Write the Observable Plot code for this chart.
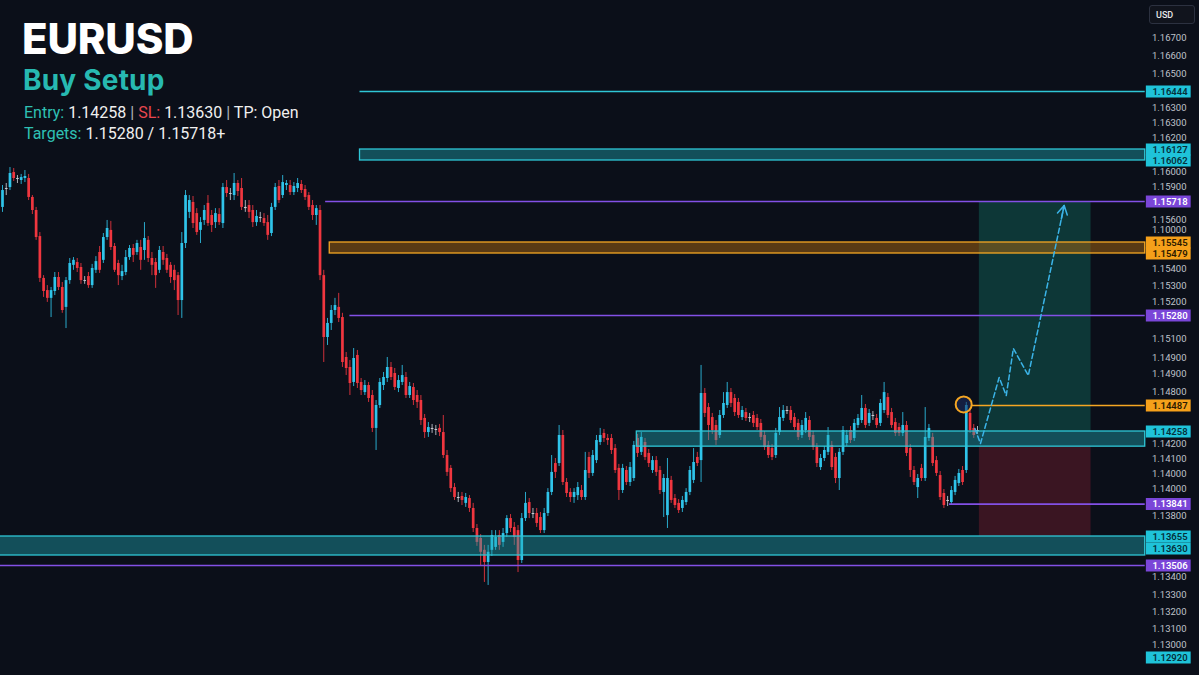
<!DOCTYPE html>
<html>
<head>
<meta charset="utf-8">
<script src="https://cdn.jsdelivr.net/npm/d3@7"></script>
<script src="https://cdn.jsdelivr.net/npm/@observablehq/plot@0.6"></script>
<style>
  html, body { margin: 0; padding: 0; background: #0b0f19; overflow: hidden; }
  #wrap { position: relative; width: 1199px; height: 675px; }
  #chart svg { display: block; }
  .title { position: absolute; left: 22px; top: 18px; font: 800 42px Inter, "DejaVu Sans", sans-serif; color: #ffffff; line-height: 1; letter-spacing: -0.2px; }
  .sub { position: absolute; left: 23px; top: 66px; font: 700 28px Inter, sans-serif; color: #27b9b1; line-height: 1; letter-spacing: 0.2px; }
  .info { position: absolute; left: 24px; font: 400 16px Roboto, sans-serif; color: #f0f0f0; line-height: 1; white-space: nowrap; }
  .t { color: #2fc0b4; }
  .r { color: #e8474f; }
  .sep { color: #b0b4bc; }
  #usd { position: absolute; left: 1149px; top: 5px; width: 46px; height: 19px; border: 1px solid #2c3140; border-radius: 3px; background: #11141d; color: #e8e8e8; font: 500 9px Roboto, sans-serif; line-height: 18px; padding-left: 6px; box-sizing: border-box; }
</style>
</head>
<body>
<div id="wrap">
  <div id="chart"></div>
  <div class="title">EURUSD</div>
  <div class="sub">Buy Setup</div>
  <div class="info" style="top:105px"><span class="t">Entry:</span> 1.14258 <span class="sep">|</span> <span class="r">SL:</span> 1.13630 <span class="sep">|</span> TP: Open</div>
  <div class="info" style="top:126px"><span class="t">Targets:</span> 1.15280 / 1.15718+</div>
  <div id="usd">USD</div>
</div>
<script>
// ---------------- DATA (EURUSD candles, bar index 0..261) ----------------
const open = [
1.15693,1.15819,1.15835,1.15961,1.15911,1.15894,1.15911,1.15911,1.15752,1.15680,
1.15570,1.15399,1.15360,1.15335,1.15357,1.15402,1.15370,1.15306,1.15392,1.15441,
1.15450,1.15434,1.15392,1.15405,1.15376,1.15425,1.15485,1.15457,1.15566,1.15596,
1.15521,1.15447,1.15405,1.15418,1.15466,1.15509,1.15485,1.15515,1.15497,1.15554,
1.15463,1.15450,1.15425,1.15485,1.15463,1.15441,1.15425,1.15408,1.15328,1.15539,
1.15672,1.15714,1.15667,1.15596,1.15638,1.15710,1.15659,1.15629,1.15663,1.15625,
1.15835,1.15785,1.15768,1.15869,1.15827,1.15693,1.15701,1.15680,1.15629,1.15650,
1.15646,1.15629,1.15583,1.15693,1.15844,1.15768,1.15852,1.15852,1.15793,1.15827,
1.15861,1.15819,1.15768,1.15701,1.15659,1.15680,1.15408,1.15086,1.15210,1.15296,
1.15306,1.15262,1.14910,1.14822,1.14690,1.14928,1.14690,1.14601,1.14663,1.14575,
1.14285,1.14487,1.14663,1.14725,1.14822,1.14769,1.14637,1.14690,1.14734,1.14575,
1.14646,1.14575,1.14531,1.14373,1.14252,1.14285,1.14276,1.14285,1.14252,1.14120,
1.14046,1.13936,1.13879,1.13885,1.13845,1.13873,1.13816,1.13701,1.136524,1.136368,
1.13543,1.136368,1.136407,1.13661,1.136472,1.13672,1.13758,1.13707,1.13689,1.13568,
1.13758,1.13850,1.13787,1.13787,1.13764,1.13689,1.13787,1.13908,1.14074,1.14074,
1.14235,1.13965,1.13908,1.13879,1.13890,1.13919,1.13879,1.14109,1.14017,1.14091,
1.14195,1.14247,1.14218,1.14218,1.14160,1.14046,1.13919,1.14034,1.13965,1.13988,
1.14218,1.14138,1.14195,1.14132,1.14034,1.14091,1.14034,1.13908,1.13775,1.13977,
1.13873,1.13845,1.13816,1.13850,1.13908,1.13977,1.14109,1.14091,1.14593,1.14469,
1.14381,1.14311,1.14235,1.14399,1.14487,1.14601,1.14549,1.14514,1.14381,1.14425,
1.14381,1.14399,1.14373,1.14329,1.14235,1.14178,1.14160,1.14120,1.14252,1.14373,
1.14443,1.14443,1.14381,1.14329,1.14235,1.14267,1.14355,1.14235,1.14166,1.14051,
1.14103,1.14138,1.14178,1.14109,1.13988,1.14138,1.14189,1.14267,1.14218,1.14311,
1.14355,1.14461,1.14329,1.14399,1.14373,1.14329,1.14443,1.14557,1.14425,1.14337,
1.14293,1.14247,1.14311,1.14160,1.14034,1.13936,1.14046,1.13988,1.14218,1.14224,
1.14091,1.14005,1.13902,1.13862,1.13850,1.13908,1.13959,1.14034,1.14034,1.14417,
1.14285,1.14267
];
const high = [
1.15852,1.15869,1.16003,1.15995,1.15936,1.15945,1.15978,1.15945,1.15768,1.15693,
1.15587,1.15408,1.15376,1.15370,1.15418,1.15418,1.15386,1.15402,1.15463,1.15466,
1.15463,1.15447,1.15405,1.15418,1.15444,1.15469,1.15521,1.15583,1.15638,1.15634,
1.15539,1.15457,1.15441,1.15497,1.15527,1.15533,1.15554,1.15554,1.15629,1.15570,
1.15485,1.15463,1.15521,1.15521,1.15476,1.15450,1.15441,1.15418,1.15587,1.15810,
1.15768,1.15760,1.15688,1.15650,1.15701,1.15768,1.15680,1.15688,1.15688,1.15869,
1.15894,1.15827,1.15953,1.15894,1.15911,1.15726,1.15726,1.15701,1.15680,1.15672,
1.15667,1.15659,1.15710,1.15869,1.15894,1.15936,1.15894,1.15894,1.15877,1.15911,
1.15894,1.15852,1.15793,1.15726,1.15701,1.15701,1.15425,1.15254,1.15312,1.15335,
1.15351,1.15287,1.14954,1.14884,1.14989,1.14972,1.14725,1.14707,1.14690,1.14619,
1.14531,1.14725,1.14778,1.14910,1.14866,1.14813,1.14751,1.14840,1.14778,1.14690,
1.14681,1.14619,1.14575,1.14408,1.14337,1.14320,1.14311,1.14320,1.14399,1.14149,
1.14063,1.13959,1.13908,1.13908,1.13902,1.13890,1.13845,1.13724,1.13666,1.136433,
1.136433,1.13689,1.13689,1.13689,1.13701,1.13775,1.13781,1.13735,1.13718,1.13787,
1.13908,1.13873,1.13816,1.13816,1.13793,1.13816,1.13930,1.14120,1.14103,1.14311,
1.14267,1.13988,1.13930,1.13930,1.13965,1.13948,1.14138,1.14138,1.14149,1.14235,
1.14285,1.14276,1.14241,1.14241,1.14183,1.14069,1.14069,1.14057,1.14080,1.14201,
1.14241,1.14252,1.14218,1.14155,1.14114,1.14114,1.14057,1.14011,1.14103,1.14000,
1.13896,1.13867,1.13885,1.13930,1.14057,1.14160,1.14138,1.14840,1.14637,1.14505,
1.14417,1.14355,1.14443,1.14601,1.14690,1.14637,1.14584,1.14549,1.14478,1.14461,
1.14417,1.14434,1.14408,1.14364,1.14258,1.14201,1.14183,1.14285,1.14469,1.14487,
1.14478,1.14478,1.14417,1.14364,1.14355,1.14425,1.14390,1.14258,1.14189,1.14126,
1.14172,1.14293,1.14201,1.14132,1.14160,1.14302,1.14267,1.14302,1.14364,1.14408,
1.14575,1.14496,1.14452,1.14434,1.14408,1.14540,1.14690,1.14593,1.14461,1.14373,
1.14329,1.14425,1.14346,1.14183,1.14057,1.14011,1.14069,1.14469,1.14320,1.14247,
1.14114,1.14028,1.13925,1.13885,1.13942,1.14000,1.14040,1.14057,1.14514,1.14452,
1.14320,1.14302
];
const low = [
1.15672,1.15768,1.15810,1.15886,1.15869,1.15861,1.15877,1.15726,1.15663,1.15554,
1.15386,1.15338,1.15322,1.15262,1.15344,1.15360,1.15287,1.15165,1.15380,1.15425,
1.15418,1.15380,1.15380,1.15367,1.15367,1.15415,1.15415,1.15447,1.15554,1.15497,
1.15418,1.15376,1.15392,1.15408,1.15457,1.15450,1.15473,1.15425,1.15457,1.15450,
1.15408,1.15367,1.15415,1.15441,1.15415,1.15383,1.15360,1.15280,1.15254,1.15509,
1.15646,1.15604,1.15575,1.15539,1.15617,1.15613,1.15587,1.15604,1.15617,1.15604,
1.15752,1.15726,1.15726,1.15760,1.15680,1.15672,1.15646,1.15608,1.15613,1.15629,
1.15613,1.15554,1.15570,1.15680,1.15710,1.15743,1.15810,1.15768,1.15768,1.15793,
1.15785,1.15726,1.15680,1.15638,1.15617,1.15392,1.14866,1.15016,1.15148,1.15280,
1.15218,1.14822,1.14751,1.14575,1.14654,1.14637,1.14575,1.14575,1.14514,1.14252,
1.14149,1.14461,1.14619,1.14690,1.14707,1.14619,1.14601,1.14663,1.14549,1.14549,
1.14487,1.14461,1.14311,1.14218,1.14224,1.14247,1.14235,1.14229,1.14103,1.14000,
1.13908,1.13862,1.13850,1.13833,1.13822,1.13793,1.13678,1.136420,1.13506,1.13398,
1.13379,1.13618,1.136368,1.136368,1.136407,1.136537,1.13678,1.136433,1.13461,1.13531,
1.13741,1.13758,1.13758,1.13707,1.13672,1.13672,1.13770,1.13890,1.13988,1.14057,
1.13948,1.13879,1.13850,1.13845,1.13862,1.13862,1.13862,1.13988,1.14000,1.14074,
1.14178,1.14195,1.14178,1.14126,1.14017,1.13862,1.13902,1.13948,1.13942,1.13971,
1.14109,1.14120,1.14091,1.14051,1.14017,1.14000,1.13896,1.13764,1.13701,1.13845,
1.13816,1.13787,1.13793,1.13833,1.13890,1.13959,1.14057,1.13965,1.14381,1.14206,
1.14241,1.14178,1.14218,1.14373,1.14461,1.14469,1.14390,1.14373,1.14355,1.14346,
1.14337,1.14293,1.14267,1.14206,1.14149,1.14103,1.14091,1.14103,1.14235,1.14346,
1.14408,1.14329,1.14267,1.14206,1.14218,1.14247,1.14206,1.14149,1.14051,1.14034,
1.14086,1.14120,1.14034,1.13959,1.13919,1.14120,1.14172,1.14189,1.14201,1.14285,
1.14329,1.14285,1.14302,1.14355,1.14285,1.14302,1.14417,1.14373,1.14285,1.14229,
1.14229,1.14229,1.14114,1.13994,1.13948,1.13873,1.13971,1.13971,1.14201,1.14057,
1.14000,1.13862,1.13816,1.13827,1.13833,1.13890,1.13942,1.13948,1.14017,1.14247,
1.14218,1.14241
];
const close = [
1.15810,1.15827,1.15953,1.15911,1.15903,1.15919,1.15928,1.15752,1.15680,1.15566,
1.15399,1.15357,1.15335,1.15360,1.15402,1.15370,1.15296,1.15392,1.15447,1.15457,
1.15431,1.15392,1.15389,1.15376,1.15431,1.15453,1.15425,1.15566,1.15604,1.15515,
1.15425,1.15408,1.15421,1.15466,1.15509,1.15473,1.15539,1.15457,1.15562,1.15463,
1.15441,1.15408,1.15497,1.15457,1.15425,1.15402,1.15392,1.15328,1.15539,1.15768,
1.15726,1.15625,1.15587,1.15629,1.15680,1.15625,1.15617,1.15667,1.15629,1.15835,
1.15785,1.15777,1.15869,1.15802,1.15693,1.15688,1.15672,1.15629,1.15655,1.15646,
1.15625,1.15575,1.15693,1.15835,1.15726,1.15877,1.15869,1.15793,1.15844,1.15869,
1.15810,1.15752,1.15693,1.15659,1.15688,1.15408,1.15086,1.15210,1.15296,1.15312,
1.15254,1.14866,1.14813,1.14681,1.14901,1.14681,1.14619,1.14663,1.14549,1.14285,
1.14487,1.14690,1.14734,1.14822,1.14734,1.14646,1.14707,1.14751,1.14575,1.14654,
1.14531,1.14514,1.14355,1.14252,1.14293,1.14276,1.14267,1.14252,1.14120,1.14023,
1.13930,1.13879,1.13873,1.13862,1.13879,1.13816,1.13701,1.136472,1.136342,1.13543,
1.136342,1.13661,1.136537,1.136433,1.13672,1.13758,1.13701,1.136537,1.13568,1.13758,
1.13845,1.13787,1.13781,1.13730,1.13689,1.13787,1.13908,1.14023,1.14023,1.14235,
1.13965,1.13902,1.13879,1.13908,1.13936,1.13879,1.14034,1.14017,1.14120,1.14206,
1.14235,1.14218,1.14206,1.14149,1.14034,1.13919,1.14046,1.13965,1.14051,1.14178,
1.14132,1.14224,1.14109,1.14074,1.14091,1.14023,1.13919,1.13988,1.13988,1.13862,
1.13833,1.13804,1.13862,1.13908,1.14034,1.14080,1.14074,1.14593,1.14417,1.14311,
1.14267,1.14206,1.14399,1.14505,1.14601,1.14505,1.14425,1.14399,1.14443,1.14373,
1.14373,1.14329,1.14293,1.14224,1.14166,1.14120,1.14109,1.14247,1.14381,1.14443,
1.14434,1.14355,1.14293,1.14224,1.14311,1.14373,1.14224,1.14166,1.14074,1.14103,
1.14149,1.14235,1.14051,1.13988,1.14138,1.14267,1.14235,1.14206,1.14329,1.14373,
1.14461,1.14311,1.14417,1.14390,1.14311,1.14505,1.14601,1.14399,1.14311,1.14247,
1.14247,1.14311,1.14132,1.14034,1.13965,1.13988,1.13988,1.14224,1.14285,1.14074,
1.14017,1.13879,1.13833,1.13856,1.13919,1.13977,1.14017,1.13965,1.14487,1.14267,
1.14235,1.14258
];

// Horizontal levels (price, first bar of the drawing, kind)
const linePrice = [1.16444, 1.15718, 1.15280, 1.14487, 1.13841, 1.13506];
const lineStart = [95.7, 86.5, 93, 259.4, 253.5, -2];
const lineKind  = ["cyan", "purple", "purple", "orange", "purple", "purple"];

// Zones / bands (top price, bottom price, first bar, kind)
const bandTop    = [1.16127, 1.15545, 1.14258, 1.13655];
const bandBottom = [1.16062, 1.15479, 1.14171, 1.13630];
const bandStart  = [95.7, 87.6, 169.8, -2];
const bandKind   = ["cyan", "orange", "cyan", "cyan"];

// Price-scale labels
const tagPrice = [1.16444, 1.16127, 1.16062, 1.15718, 1.15545, 1.15479, 1.15280, 1.14487, 1.14258, 1.13841, 1.13655, 1.13630, 1.13506, 1.12920];
const tagKind  = ["cyan","cyan","cyan","purple","orange","orange","purple","orange","cyan","purple","cyan","cyan","purple","cyan"];

// Axis tick labels as printed in the picture, and the price where each sits
const tickPrice = [1.16744,1.16644,1.16544,1.16356,1.16274,1.16192,1.15970,1.15844,1.15642,1.15600,1.15431,1.15376,1.15322,1.15069,1.14910,1.14769,1.14610,1.14189,1.14103,1.14017,1.13930,1.13775,1.13430,1.13321,1.13213,1.13105,1.13003];
const tickText  = ["1.16700","1.16600","1.16500","1.16300","1.16300","1.16200","1.16000","1.15900","1.15600","1.10000","1.15400","1.15300","1.15200","1.15100","1.14900","1.14900","1.14800","1.14200","1.14100","1.14000","1.14000","1.13800","1.13400","1.13300","1.13200","1.13100","1.13000"];

// Long position tool
const entryPrice = 1.14258, targetPrice = 1.15718, stopZonePrice = 1.13655, entryBandLow = 1.14171;
const positionBars = [261.5, 291.4];

// Projected path (bar, price)
const pathBar   = [260.3, 261.8, 266.8, 268.7, 270.6, 274.6, 284.2];
const pathPrice = [1.14285, 1.14189, 1.14734, 1.14575, 1.14989, 1.14751, 1.15701];

// Highlighted wick high
const markBar = 257.3, markPrice = 1.14496;

// ---------------- SCALE CONFIG ----------------
// The picture's price axis is not uniform; the scale is pinned at the labelled levels.
const yDomain = [1.16950, 1.16444, 1.16127, 1.16062, 1.15718, 1.15545, 1.15479, 1.15280, 1.14258, 1.13655, 1.13630, 1.13506, 1.12920, 1.12805];
const yRange  = [0, 91, 149, 160, 201, 242, 253, 315, 431, 536, 555, 565, 657, 675];

const xRight = 305.9;          // right end of drawings (price-scale edge)
const tagX1 = 306.2, tagX2 = 318.2;

const palette = {
  cyan:   {line: "#2fc6d6", fill: "#20aab4", tag: "#1fc3d9", text: "#05303b", op: 0.42},
  purple: {line: "#8350e6", fill: "#8350e6", tag: "#7a46d8", text: "#ffffff", op: 0.42},
  orange: {line: "#f5a623", fill: "#a86510", tag: "#f5a01a", text: "#2b1a00", op: 0.5}
};
const kinds = ["cyan", "purple", "orange"];

const N = Math.min(open.length, high.length, low.length, close.length);
const candles = d3.range(N).map(i => ({i, o: open[i], h: high[i], l: low[i], c: close[i]}));
const upC = candles.filter(d => Math.abs(d.c - d.o) >= 0.0001 && d.c > d.o);
const dnC = candles.filter(d => Math.abs(d.c - d.o) >= 0.0001 && d.c < d.o);
const flatC = candles.filter(d => Math.abs(d.c - d.o) < 0.0001);
const candleMarks = (data, color) => [
  Plot.ruleX(data, {x: "i", y1: "l", y2: "h", stroke: color, strokeWidth: 1, strokeOpacity: 0.85}),
  Plot.ruleX(data, {x: "i", y1: "o", y2: "c", stroke: color, strokeWidth: 2.7})
];

const lines = linePrice.map((p, k) => ({p, start: lineStart[k], kind: lineKind[k]}));
const bands = bandTop.map((t, k) => ({t, b: bandBottom[k], start: bandStart[k], kind: bandKind[k]}));
const tags = tagPrice.map((p, k) => ({p, kind: tagKind[k]}));
const ticks = tickPrice.map((p, k) => ({p, label: tickText[k]}));
const path = pathBar.map((b, k) => ({b, p: pathPrice[k]}));
const arrowSeg = [{x1: pathBar[5], y1: pathPrice[5], x2: pathBar[6], y2: pathPrice[6]}];

const bandMarks = kinds.flatMap(k => {
  const data = bands.filter(d => d.kind === k);
  return data.length ? [Plot.rect(data, {x1: "start", x2: xRight, y1: "t", y2: "b",
    fill: palette[k].fill, fillOpacity: palette[k].op, stroke: palette[k].line, strokeWidth: 1.3})] : [];
});
const lineMarks = kinds.flatMap(k => {
  const data = lines.filter(d => d.kind === k);
  return data.length ? [Plot.ruleY(data, {y: "p", x1: "start", x2: xRight, stroke: palette[k].line, strokeWidth: 1.7})] : [];
});
const tagMarks = kinds.flatMap(k => {
  const out = [];
  for (const [data, dy] of [[tags.filter(d => d.kind === k && d.p !== 1.13630), 0], [tags.filter(d => d.kind === k && d.p === 1.13630), -7]]) {
    if (!data.length) continue;
    out.push(Plot.ruleY(data, {y: "p", x1: tagX1, x2: tagX2, stroke: palette[k].tag, strokeWidth: 12, dy}));
    out.push(Plot.text(data, {y: "p", text: d => d.p.toFixed(5), frameAnchor: "right", dx: -29.5, dy,
      textAnchor: "middle", fill: palette[k].text, fontSize: 9.5, fontWeight: 600}));
  }
  return out;
});

const chart = Plot.plot({
  width: 1199,
  height: 675,
  margin: 0,
  style: {background: "#0b0f19", fontFamily: "Roboto, sans-serif"},
  x: {type: "linear", domain: [0, 261], range: [2, 977], axis: null},
  y: {type: "linear", domain: yDomain, range: yRange, axis: null},
  marks: [
    Plot.rect([{y1: entryPrice, y2: targetPrice}], {x1: positionBars[0], x2: positionBars[1], y1: "y1", y2: "y2", fill: "#14a085", fillOpacity: 0.28}),
    Plot.rect([{y1: entryBandLow, y2: stopZonePrice}], {x1: positionBars[0], x2: positionBars[1], y1: "y1", y2: "y2", fill: "#c0263e", fillOpacity: 0.26}),
    ...candleMarks(upC, "#2fc4ea"),
    ...candleMarks(dnC, "#f0363f"),
    ...candleMarks(flatC, "#c9ccd4"),
    ...bandMarks,
    ...lineMarks,
    Plot.line(path, {x: "b", y: "p", stroke: "#3bb4e8", strokeWidth: 1.5, strokeDasharray: "5,3"}),
    Plot.arrow(arrowSeg, {x1: "x1", y1: "y1", x2: "x2", y2: "y2", stroke: "#3bb4e8", strokeWidth: 1.5,
      headLength: 10, insetStart: 160}),
    Plot.dot([{b: markBar, p: markPrice}], {x: "b", y: "p", r: 8, stroke: "#f5a623", strokeWidth: 2,
      fill: "#1d2d63", fillOpacity: 0.55}),
    Plot.text(ticks, {y: "p", text: "label", frameAnchor: "right", dx: -13, textAnchor: "end",
      fill: "#bfc2ca", fontSize: 9.5}),
    ...tagMarks
  ]
});
document.getElementById("chart").appendChild(chart);
</script>
</body>
</html>
